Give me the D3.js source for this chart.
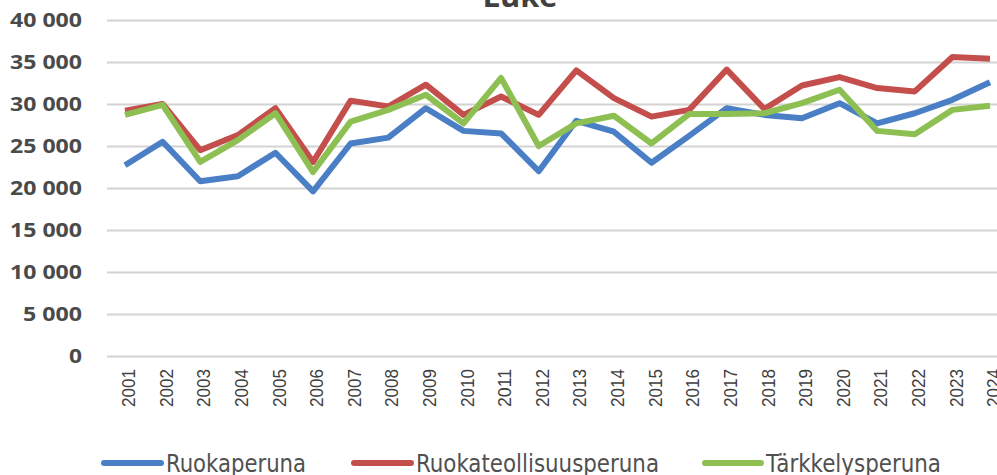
<!DOCTYPE html>
<html>
<head>
<meta charset="utf-8">
<script src="https://cdn.jsdelivr.net/npm/d3@7"></script>
<style>
  body { margin: 0; background: #fff; }
  svg { display: block; }
</style>
</head>
<body>
<div id="chart"></div>
<script>
const years = ["2001","2002","2003","2004","2005","2006","2007","2008","2009","2010","2011","2012",
               "2013","2014","2015","2016","2017","2018","2019","2020","2021","2022","2023","2024"];

const ruokaperuna = [22700, 25500, 20800, 21400, 24200, 19600, 25300, 26000, 29500, 26800, 26500, 22000,
                     28000, 26700, 23000, 26200, 29500, 28700, 28300, 30100, 27700, 28900, 30500, 32600];
const ruokateollisuusperuna = [29200, 30000, 24500, 26300, 29500, 23100, 30400, 29700, 32300, 28700, 30900, 28700,
                               34000, 30700, 28500, 29300, 34100, 29400, 32200, 33200, 31900, 31500, 35600, 35400];
const tarkkelysperuna = [28700, 29900, 23100, 25700, 28900, 21900, 27900, 29300, 31100, 27700, 33100, 25000,
                         27700, 28600, 25300, 28800, 28800, 28900, 30100, 31700, 26800, 26400, 29300, 29800];

const yTicks = [0, 5000, 10000, 15000, 20000, 25000, 30000, 35000, 40000];

const series = [
  { name: "Ruokaperuna", values: ruokaperuna, color: "#4a7fc6" },
  { name: "Ruokateollisuusperuna", values: ruokateollisuusperuna, color: "#c44e4b" },
  { name: "Tärkkelysperuna", values: tarkkelysperuna, color: "#8dbf52" }
];

const W = 997, H = 475;
const plot = { left: 107, right: 997, top: 20, bottom: 356 };

const svg = d3.select("#chart").append("svg")
  .attr("width", W)
  .attr("height", H);

const x = d3.scalePoint().domain(years).range([125, 990]);
const y = d3.scaleLinear().domain([0, 40000]).range([plot.bottom, plot.top]);

// gridlines + y labels
const fmt = v => d3.format(",")(v).replace(/,/g, " ");
const yAxis = svg.append("g")
  .attr("transform", "translate(" + plot.left + ",0)")
  .call(d3.axisLeft(y).tickValues(yTicks).tickFormat(fmt)
    .tickSize(-(plot.right - plot.left)).tickPadding(25));
yAxis.select(".domain").remove();
yAxis.selectAll(".tick line").attr("stroke", "#d3d3d3").attr("stroke-width", 2);
yAxis.selectAll(".tick text")
  .attr("fill", "#4a4a4a")
  .style("font-family", "'Open Sans', sans-serif")
  .style("font-weight", "700")
  .style("font-size", "19px")
  .attr("textLength", d => { const s = fmt(d); const digits = s.replace(/ /g, "").length; return digits * 13 + (s.length > digits ? 7 : 0); })
  .attr("lengthAdjust", "spacingAndGlyphs");

// x labels, rotated
const xAxis = svg.append("g")
  .attr("transform", "translate(0," + plot.bottom + ")")
  .call(d3.axisBottom(x).tickSize(0).tickPadding(0));
xAxis.select(".domain").remove();
xAxis.selectAll(".tick text")
  .attr("transform", "rotate(-90)")
  .attr("text-anchor", "end")
  .attr("x", -13)
  .attr("y", 3)
  .attr("dy", "0.35em")
  .attr("fill", "#404040")
  .style("font-family", "'Liberation Sans', Arial, sans-serif")
  .style("font-size", "19px")
  .attr("textLength", 38)
  .attr("lengthAdjust", "spacingAndGlyphs");

// lines
const line = d3.line()
  .x((d, i) => x(years[i]))
  .y(d => y(d));

svg.selectAll(".series")
  .data(series)
  .enter().append("path")
  .attr("class", "series")
  .attr("fill", "none")
  .attr("stroke", d => d.color)
  .attr("stroke-width", 6)
  .attr("stroke-linejoin", "round")
  .attr("d", d => line(d.values));

// title (cut off at top)
svg.append("text")
  .attr("x", 520)
  .attr("y", 7)
  .attr("text-anchor", "middle")
  .attr("fill", "#404040")
  .style("font-family", "'Open Sans', sans-serif")
  .style("font-weight", "700")
  .style("font-size", "30px")
  .attr("textLength", 75)
  .attr("lengthAdjust", "spacingAndGlyphs")
  .text("Luke");

// legend
const legendPos = [
  { x: 102, w: 61, tw: 140 },
  { x: 352, w: 61, tw: 243 },
  { x: 703, w: 60, tw: 175 }
];
const legend = svg.selectAll(".legend")
  .data(series)
  .enter().append("g")
  .attr("class", "legend")
  .attr("transform", (d, i) => "translate(" + legendPos[i].x + ",463)");

legend.append("line")
  .attr("x1", 2)
  .attr("x2", (d, i) => legendPos[i].w - 2)
  .attr("stroke", d => d.color)
  .attr("stroke-width", 6)
  .attr("stroke-linecap", "round");

legend.append("text")
  .attr("x", (d, i) => legendPos[i].w + 3)
  .attr("y", 9)
  .attr("fill", "#505050")
  .style("font-family", "'Liberation Sans Narrow', 'DejaVu Sans Condensed', sans-serif")
  .style("font-size", "24px")
  .attr("textLength", (d, i) => legendPos[i].tw)
  .attr("lengthAdjust", "spacingAndGlyphs")
  .text(d => d.name);
</script>
</body>
</html>
